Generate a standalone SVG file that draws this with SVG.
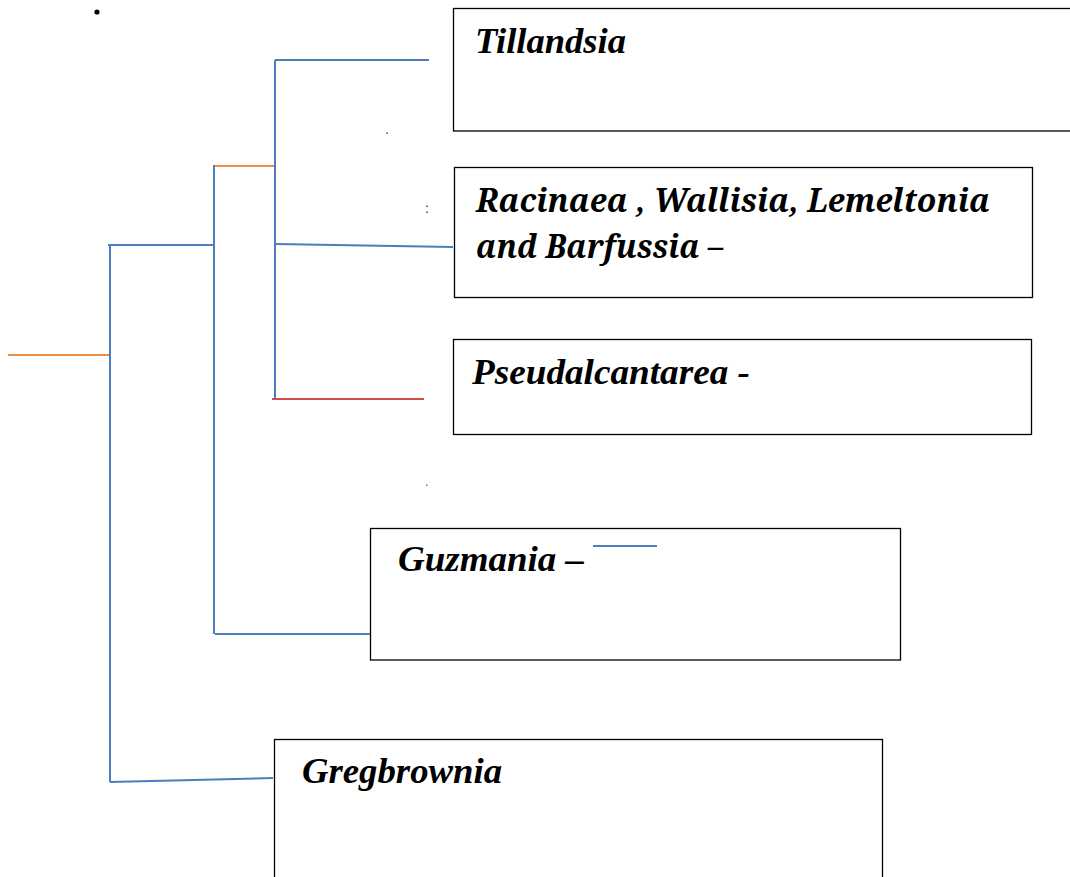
<svg xmlns="http://www.w3.org/2000/svg" width="1070" height="877" viewBox="0 0 1070 877">
<style>
.box{fill:#fff;stroke:#000;stroke-width:1.3}
.b{stroke:#4a7ebf;stroke-width:2;fill:none}
.o{stroke:#f28c3a;stroke-width:2;fill:none}
.r{stroke:#c9504c;stroke-width:2;fill:none}
</style>
<rect width="1070" height="877" fill="#fff"/>
<circle cx="97" cy="12" r="2.6" fill="#000"/>
<g font-family="Liberation Serif" font-weight="bold" font-style="italic" font-size="36" fill="#000">
<g id="tillandsia">
<rect class="box" x="453.5" y="8.5" width="630" height="122.5"/>
<text x="475" y="53" textLength="151" lengthAdjust="spacingAndGlyphs">Tillandsia</text>
</g>
<g id="racinaea">
<rect class="box" x="454.5" y="167.5" width="578" height="130"/>
<text font-family="Noto Serif" font-size="33" x="476" y="212" textLength="514" lengthAdjust="spacingAndGlyphs">Racinaea , Wallisia, Lemeltonia</text>
<text font-family="Noto Serif" font-size="33" x="476" y="258" textLength="247" lengthAdjust="spacingAndGlyphs">and Barfussia –</text>
</g>
<g id="pseudalcantarea">
<rect class="box" x="453.5" y="339.5" width="578" height="95"/>
<text x="472" y="384" textLength="278" lengthAdjust="spacingAndGlyphs">Pseudalcantarea -</text>
</g>
<g id="guzmania">
<rect class="box" x="370.5" y="528.5" width="530" height="131.5"/>
<text x="398" y="571" textLength="186" lengthAdjust="spacingAndGlyphs">Guzmania –</text>
</g>
<g id="gregbrownia">
<rect class="box" x="274.5" y="739.5" width="608" height="145"/>
<text x="302" y="783" textLength="200" lengthAdjust="spacingAndGlyphs">Gregbrownia</text>
</g>
</g>
<g id="connectors">
<line class="o" x1="8" y1="355" x2="109" y2="355"/>
<line class="b" x1="110" y1="245" x2="110" y2="782"/>
<line class="b" x1="108" y1="245" x2="215" y2="245"/>
<line class="b" x1="214" y1="165" x2="214" y2="634"/>
<line class="o" x1="215" y1="166" x2="274" y2="166"/>
<line class="b" x1="275" y1="60" x2="275" y2="398"/>
<line class="b" x1="275" y1="60" x2="429" y2="60"/>
<line class="b" x1="275" y1="244" x2="453" y2="247"/>
<line class="r" x1="272" y1="399" x2="424" y2="399"/>
<line class="b" x1="215" y1="634" x2="370" y2="634"/>
<line class="b" x1="110" y1="782" x2="273" y2="778"/>
<line class="b" x1="593" y1="546" x2="657" y2="546"/>
<rect x="386" y="132.5" width="2" height="1.5" fill="#4a7ebf"/>
<rect x="426" y="205.5" width="2" height="1.5" fill="#c9504c"/>
<rect x="426" y="211.5" width="2" height="1.5" fill="#4a7ebf"/>
<rect x="426" y="484.5" width="1.5" height="1.5" fill="#c9504c"/>
</g>
</svg>
